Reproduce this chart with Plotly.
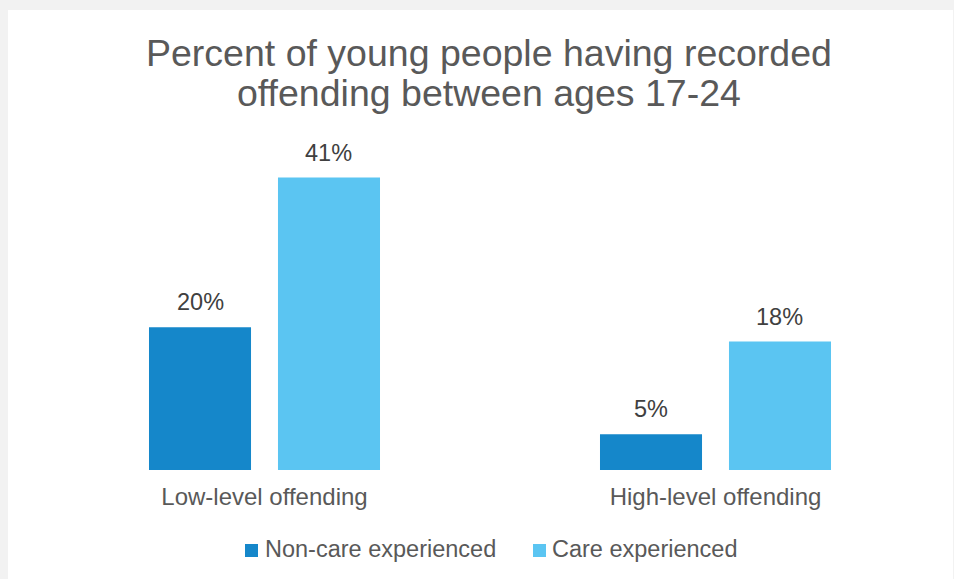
import plotly.graph_objects as go

# Data
categories = ["Low-level offending", "High-level offending"]
non_care = [20, 5]
care = [41, 18]
series_names = ["Non-care experienced", "Care experienced"]
title_lines = ["Percent of young people having recorded", "offending between ages 17-24"]

# Styling
W, H = 954, 579
DARK = "#1587CA"
LIGHT = "#5BC5F2"
COLORS = [DARK, LIGHT]
FONT = "Liberation Sans, Arial, sans-serif"
M_L, M_R, M_T, M_B = 39, 13, 149, 109
BARGAP = 0.428
GROUPGAP = 0.209
Y_MAX = 45

fig = go.Figure()
for name, vals, col in zip(series_names, (non_care, care), COLORS):
    fig.add_trace(go.Bar(name=name, x=categories, y=vals,
                         marker_color=col, marker_line_width=0, showlegend=False))

plot_w = W - M_L - M_R
ph = H - M_T - M_B


def px_to_paper_x(px):
    return (px - M_L) / plot_w


def px_to_paper_y(py):
    return (H - M_B - py) / ph


# Value labels above each bar, offset to each bar's slot within the group
cat_px = plot_w / len(categories)
slot_px = cat_px * (1 - BARGAP) / 2
for series, sign in ((non_care, -1), (care, 1)):
    for cat, v in zip(categories, series):
        fig.add_annotation(x=cat, y=v, xref="x", yref="y", text=f"{v}%",
                           showarrow=False, xanchor="center", yanchor="bottom",
                           xshift=sign * slot_px / 2, yshift=10,
                           font=dict(family=FONT, size=23.5, color="#404040"))

# Light grey frame strips along the top, left and right edges
for x0, x1, y0, y1 in ((0, W, 0, 10), (0, 8, 0, H), (W - 1, W, 0, H)):
    fig.add_shape(type="rect", xref="paper", yref="paper", layer="below",
                  x0=px_to_paper_x(x0), x1=px_to_paper_x(x1),
                  y0=px_to_paper_y(y1), y1=px_to_paper_y(y0),
                  fillcolor="#F2F2F2", line_width=0)

# Two-line title with tight line spacing
for line, cy in zip(title_lines, (53, 92.5)):
    fig.add_annotation(x=px_to_paper_x(489), y=px_to_paper_y(cy), xref="paper", yref="paper",
                       text=line, showarrow=False, xanchor="center", yanchor="middle",
                       font=dict(family=FONT, size=37.5, color="#595959"))

# Legend: colour swatch followed by series name
legend_items = [(245, 263), (533, 550)]
for (sx, tx), name, col in zip(legend_items, series_names, COLORS):
    fig.add_shape(type="rect", xref="paper", yref="paper",
                  x0=px_to_paper_x(sx), x1=px_to_paper_x(sx + 13),
                  y0=px_to_paper_y(557), y1=px_to_paper_y(544),
                  fillcolor=col, line_width=0)
    fig.add_annotation(x=px_to_paper_x(tx), y=px_to_paper_y(549), xref="paper", yref="paper",
                       text=name, showarrow=False, xanchor="left", yanchor="middle",
                       font=dict(family=FONT, size=23.5, color="#595959"))

fig.update_layout(
    width=W, height=H,
    margin=dict(l=M_L, r=M_R, t=M_T, b=M_B, pad=0),
    paper_bgcolor="white", plot_bgcolor="white",
    barmode="group", bargap=BARGAP, bargroupgap=GROUPGAP,
    font=dict(family=FONT, color="#595959"),
    xaxis=dict(showline=False, showgrid=False, ticks="", zeroline=False,
               ticklabelstandoff=10,
               tickfont=dict(family=FONT, size=24, color="#595959")),
    yaxis=dict(range=[0, Y_MAX], visible=False, showgrid=False, zeroline=False),
    showlegend=False,
)

fig.write_html("out.html")
